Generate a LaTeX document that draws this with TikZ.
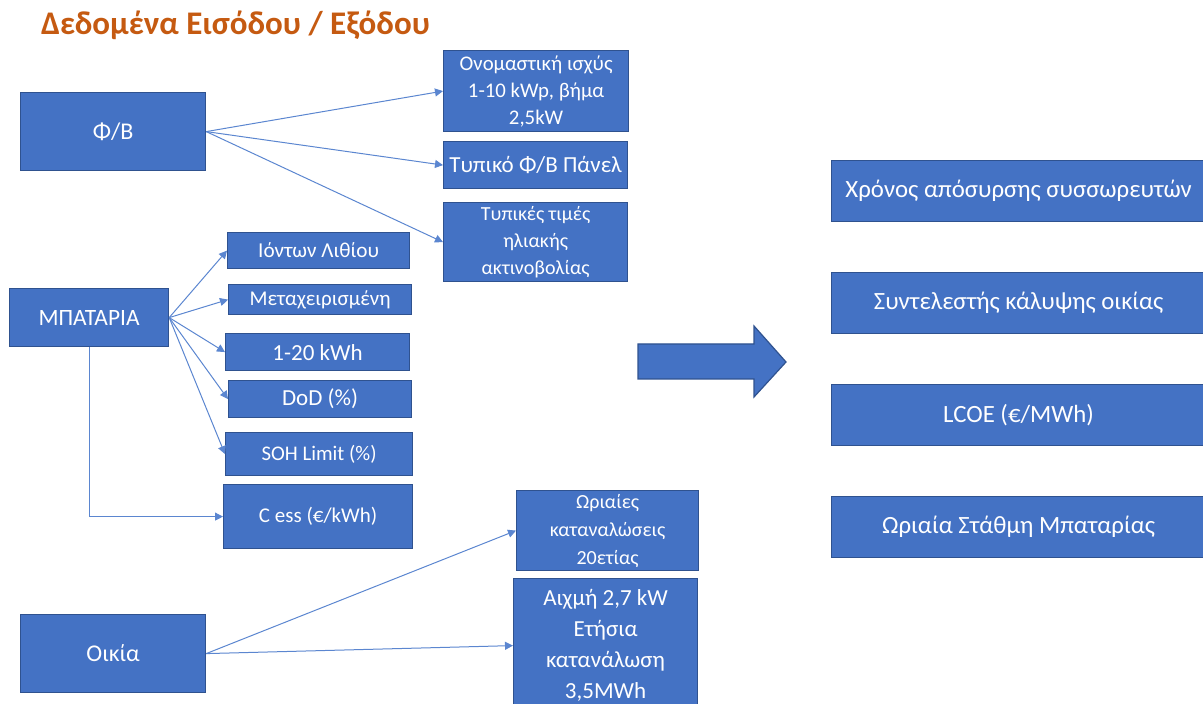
\documentclass[tikz,border=0pt]{standalone}
\usepackage{fontspec}
\setmainfont{Carlito}
\usetikzlibrary{arrows.meta}

\definecolor{boxblue}{HTML}{4472C4}
\definecolor{boxedge}{HTML}{2F528F}
\definecolor{linkblue}{HTML}{5B86D0}
\definecolor{titleorange}{HTML}{C55A11}

\tikzset{
  blk/.style={draw=boxedge, line width=0.6pt, fill=boxblue, text=white, anchor=north west,
              inner sep=0pt, align=center},
  link/.style={draw=linkblue, line width=0.5pt, -{Triangle[length=4pt,width=4pt]}}
}

\begin{document}
\begin{tikzpicture}[x=0.5pt,y=-0.5pt]

	\useasboundingbox (0,0) rectangle (1203,704);

	% Title
	\node[anchor=west, text=titleorange, font=\fontsize{16.5}{19}\selectfont\bfseries] (title) at (34,25) {Δεδομένα Εισόδου / Εξόδου};

	% Left column
	\node[blk, minimum width=92.5pt, minimum height=39pt, font=\fontsize{12}{14}\selectfont] (pv) at (20,92) {Φ/Β};
	\node[blk, minimum width=79.5pt, minimum height=29pt, font=\fontsize{11.7}{13}\selectfont] (bat) at (9,288) {ΜΠΑΤΑΡΙΑ};
	\node[blk, minimum width=92.5pt, minimum height=39pt, font=\fontsize{12}{14}\selectfont] (home) at (20,614) {Οικία};

	% PV parameters
	\node[blk, minimum width=92.5pt, minimum height=40.5pt, font=\fontsize{10.4}{13.5}\selectfont] (pvrate) at (443,50) {Ονομαστική ισχύς\\1-10 kWp, βήμα\\2,5kW};
	\node[blk, minimum width=92pt, minimum height=23.5pt, font=\fontsize{11.5}{13}\selectfont] (pvpanel) at (443,141) {Τυπικό Φ/Β Πάνελ};
	\node[blk, minimum width=92pt, minimum height=39.5pt, font=\fontsize{10}{13.5}\selectfont] (pvirr) at (443,202) {Τυπικές τιμές\\ηλιακής\\ακτινοβολίας};

	% Battery parameters
	\node[blk, minimum width=91pt, minimum height=18pt, font=\fontsize{10.6}{12}\selectfont] (liion) at (227,232) {Ιόντων Λιθίου};
	\node[blk, minimum width=91.5pt, minimum height=15pt, font=\fontsize{10.5}{11}\selectfont] (used) at (228,284) {Μεταχειρισμένη};
	\node[blk, minimum width=92pt, minimum height=18.5pt, font=\fontsize{11.5}{13}\selectfont] (cap) at (225,333) {1-20 kWh};
	\node[blk, minimum width=91.5pt, minimum height=18.5pt, font=\fontsize{11.5}{13}\selectfont] (dod) at (228,380) {DoD (\%)};
	\node[blk, minimum width=93.5pt, minimum height=21.5pt, font=\fontsize{10.4}{12}\selectfont] (soh) at (225,432) {SOH Limit (\%)};
	\node[blk, minimum width=94.5pt, minimum height=32pt, font=\fontsize{10.5}{12}\selectfont] (cess) at (223,484) {C ess (€/kWh)};

	% Household parameters
	\node[blk, minimum width=91pt, minimum height=40pt, font=\fontsize{10}{14}\selectfont] (hourly) at (516,490) {Ωριαίες\\καταναλώσεις\\20ετίας};
	\node[blk, minimum width=92pt, minimum height=67pt, font=\fontsize{11.5}{15.5}\selectfont] (peak) at (513,578) {Αιχμή 2,7 kW\\Ετήσια\\κατανάλωση\\3,5MWh};

	% Big arrow
	\draw[draw=boxedge, line width=0.6pt, fill=boxblue] (638,344) -- (754,344) -- (754,326) -- (786,362) -- (754,397) -- (754,379) -- (638,379) -- cycle;

	% Outputs
	\node[blk, minimum width=187pt, minimum height=30.5pt, font=\fontsize{12.4}{14}\selectfont] (out1) at (831,160) {Χρόνος απόσυρσης συσσωρευτών};
	\node[blk, minimum width=187pt, minimum height=30.5pt, font=\fontsize{12.4}{14}\selectfont] (out2) at (831,272) {Συντελεστής κάλυψης οικίας};
	\node[blk, minimum width=187pt, minimum height=30.5pt, font=\fontsize{12.4}{14}\selectfont] (out3) at (831,384) {LCOE (€/MWh)};
	\node[blk, minimum width=187pt, minimum height=30.5pt, font=\fontsize{12.4}{14}\selectfont] (out4) at (831,496) {Ωριαία Στάθμη Μπαταρίας};

	% Connectors
	\draw[link] (pv.east) -- (pvrate.west);
	\draw[link] (pv.east) -- (pvpanel.west);
	\draw[link] (pv.east) -- (pvirr.west);

	\draw[link] (bat.east) -- (liion.west);
	\draw[link] (bat.east) -- (used.west);
	\draw[link] (bat.east) -- (cap.west);
	\draw[link] (bat.east) -- (dod.west);
	\draw[link] (bat.east) -- (soh.west);
	\draw[link] (bat.south) |- (cess.west);

	\draw[link] (home.east) -- (hourly.west);
	\draw[link] (home.east) -- (peak.west);

\end{tikzpicture}
\end{document}
